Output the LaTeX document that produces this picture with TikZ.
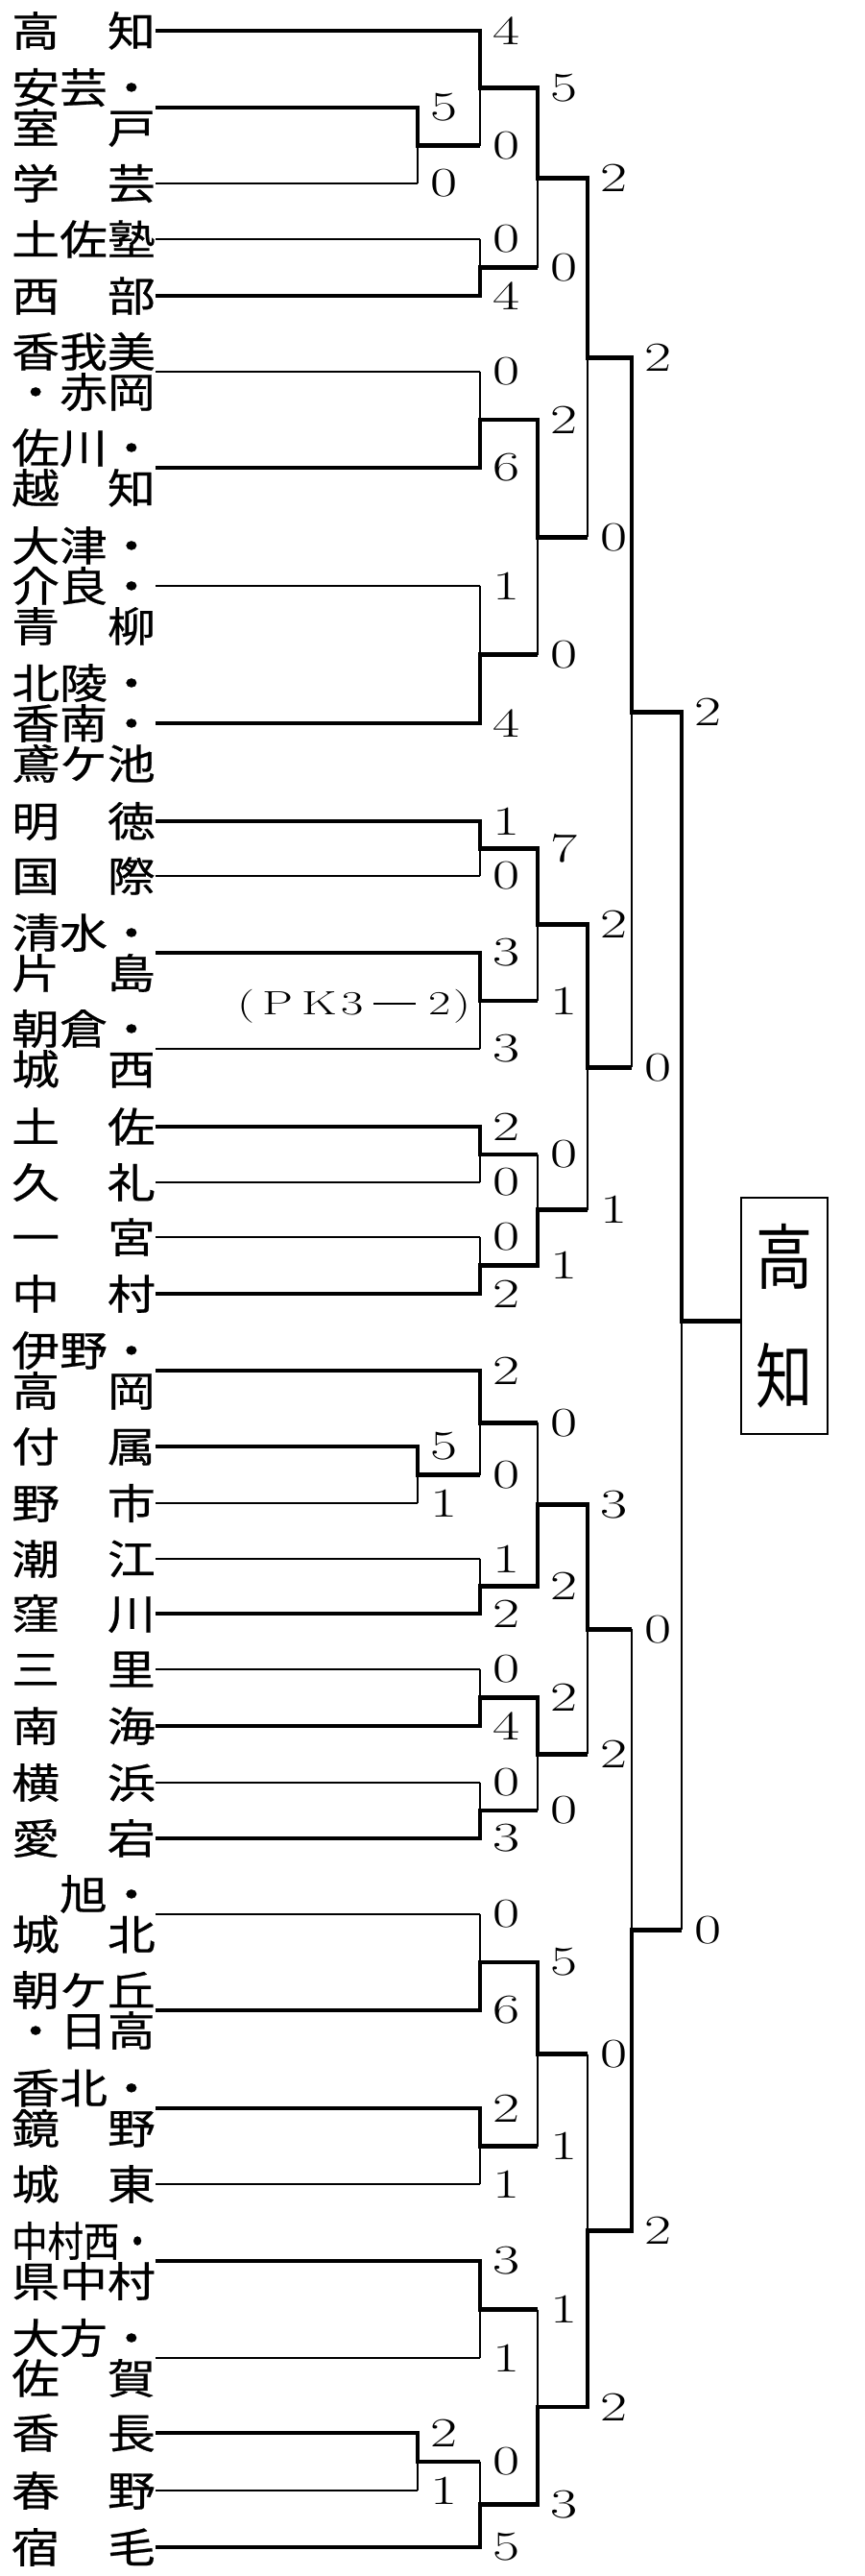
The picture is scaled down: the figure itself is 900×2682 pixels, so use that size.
\documentclass[tikz,border=0pt]{standalone}
\usepackage{fontspec}
\usepackage{graphicx}
\newfontfamily\jp[FakeStretch=1.16,FakeBold=0.6]{Noto Sans CJK JP}
\newfontfamily\jpbox{Noto Sans CJK JP}
\newcommand\dg[1]{\scalebox{1.42}[1]{#1}}
\newcommand\pkc[2]{\makebox[#1pt]{\scalebox{1.45}[1]{#2}}}
% #1 match, #2 top entry, #3 bottom entry, #4 winner entry, #5 parent, #6 #7 scores
\newcommand\bout[7]{%
  \draw[lose] (#2 -| #1) -- (#3 -| #1);
  \draw[win] (#4) -- (#4 -| #1) -- (#1) -- (#1 -| #5);
  \node[score] (#1a) at (#2 -| #1) {\dg{#6}};
  \node[score] (#1b) at (#3 -| #1) {\dg{#7}};
}
\tikzset{
  lose/.style={line width=1.4pt},
  win/.style={line width=4.9pt, line join=miter},
  team/.style={anchor=west, inner sep=0pt, align=left, font=\jp\fontsize{43}{42}\selectfont},
  score/.style={anchor=west, inner sep=0pt, xshift=13pt, font=\fontsize{43}{43}\selectfont},
  champ/.style={draw, line width=2.6pt, fill=white, minimum width=90pt, minimum height=246pt, inner sep=0pt, align=center, font=\jpbox\fontsize{74}{124}\selectfont}
}
\begin{document}
\begin{tikzpicture}[x=1pt,y=-1pt]
\useasboundingbox (0,0) rectangle (900,2682);
% team names
\node[team] (n1) at (12,32) {高　知};
\node[team] (n2) at (12,112) {安芸・\\室　戸};
\node[team] (n3) at (12,191) {学　芸};
\node[team] (n4) at (12,249) {土佐塾};
\node[team] (n5) at (12,308) {西　部};
\node[team] (n6) at (12,387) {香我美\\・赤岡};
\node[team] (n7) at (12,487) {佐川・\\越　知};
\node[team] (n8) at (12,610) {大津・\\介良・\\青　柳};
\node[team] (n9) at (12,753) {北陵・\\香南・\\鳶ケ池};
\node[team] (n10) at (12,855) {明　徳};
\node[team] (n11) at (12,912) {国　際};
\node[team] (n12) at (12,992) {清水・\\片　島};
\node[team] (n13) at (12,1092) {朝倉・\\城　西};
\node[team] (n14) at (12,1173) {土　佐};
\node[team] (n15) at (12,1231) {久　礼};
\node[team] (n16) at (12,1288) {一　宮};
\node[team] (n17) at (12,1347) {中　村};
\node[team] (n18) at (12,1427) {伊野・\\高　岡};
\node[team] (n19) at (12,1506) {付　属};
\node[team] (n20) at (12,1565) {野　市};
\node[team] (n21) at (12,1623) {潮　江};
\node[team] (n22) at (12,1680) {窪　川};
\node[team] (n23) at (12,1738) {三　里};
\node[team] (n24) at (12,1797) {南　海};
\node[team] (n25) at (12,1856) {横　浜};
\node[team] (n26) at (12,1914) {愛　宕};
\node[team] (n27) at (12,1993) {　旭・\\城　北};
\node[team] (n28) at (12,2093) {朝ケ丘\\・日高};
\node[team] (n29) at (12,2195) {香北・\\鏡　野};
\node[team] (n30) at (12,2274) {城　東};
\node[team] (n31) at (12,2354) {\scalebox{0.75}[1]{中村西・}\\県中村};
\node[team] (n32) at (12,2455) {大方・\\佐　賀};
\node[team] (n33) at (12,2533) {香　長};
\node[team] (n34) at (12,2593) {春　野};
\node[team] (n35) at (12,2652) {宿　毛};
% champion box
\node[champ] (box) at (817,1370) {\scalebox{0.8}[1]{高}\\\scalebox{0.8}[1]{知}};
% junctions
\coordinate (a1) at (435,151.5);
\coordinate (m1) at (500,91.75);
\coordinate (m2) at (500,278.5);
\coordinate (m3) at (560,185.1);
\coordinate (m4) at (500,437);
\coordinate (m5) at (500,681.5);
\coordinate (m6) at (560,559.25);
\coordinate (m7) at (612,372.2);
\coordinate (m8) at (500,883.5);
\coordinate (m9) at (500,1042);
\coordinate (m10) at (560,962.75);
\coordinate (m11) at (500,1202);
\coordinate (m12) at (500,1317.5);
\coordinate (m13) at (560,1259.75);
\coordinate (m14) at (612,1111.25);
\coordinate (m15) at (658,741.7);
\coordinate (a2) at (435,1535.5);
\coordinate (m16) at (500,1481.25);
\coordinate (m17) at (500,1651.5);
\coordinate (m18) at (560,1566.4);
\coordinate (m19) at (500,1767.5);
\coordinate (m20) at (500,1885);
\coordinate (m21) at (560,1826.25);
\coordinate (m22) at (612,1696.3);
\coordinate (m23) at (500,2043);
\coordinate (m24) at (500,2234.5);
\coordinate (m25) at (560,2138.75);
\coordinate (m26) at (500,2404.5);
\coordinate (a3) at (435,2563);
\coordinate (m27) at (500,2607.5);
\coordinate (m28) at (560,2506);
\coordinate (m29) at (612,2322.4);
\coordinate (m30) at (658,2009.35);
\coordinate (mF) at (710,1375.5);
% team lines (thin; winners are overdrawn)
\foreach \t/\m in {1/m1,2/a1,3/a1,4/m2,5/m2,6/m4,7/m4,8/m5,9/m5,10/m8,11/m8,12/m9,13/m9,14/m11,15/m11,16/m12,17/m12,18/m16,19/a2,20/a2,21/m17,22/m17,23/m19,24/m19,25/m20,26/m20,27/m23,28/m23,29/m24,30/m24,31/m26,32/m26,33/a3,34/a3,35/m27}
  \draw[lose] (n\t.east) -- (n\t.east -| \m);
% bouts
\bout{a1}{n2.east}{n3.east}{n2.east}{m1}{5}{0}
\bout{m1}{n1.east}{a1}{n1.east}{m3}{4}{0}
\bout{m2}{n4.east}{n5.east}{n5.east}{m3}{0}{4}
\bout{m3}{m1}{m2}{m1}{m7}{5}{0}
\bout{m4}{n6.east}{n7.east}{n7.east}{m6}{0}{6}
\bout{m5}{n8.east}{n9.east}{n9.east}{m6}{1}{4}
\bout{m6}{m4}{m5}{m4}{m7}{2}{0}
\bout{m7}{m3}{m6}{m3}{m15}{2}{0}
\bout{m8}{n10.east}{n11.east}{n10.east}{m10}{1}{0}
\bout{m9}{n12.east}{n13.east}{n12.east}{m10}{3}{3}
\bout{m10}{m8}{m9}{m8}{m14}{7}{1}
\bout{m11}{n14.east}{n15.east}{n14.east}{m13}{2}{0}
\bout{m12}{n16.east}{n17.east}{n17.east}{m13}{0}{2}
\bout{m13}{m11}{m12}{m12}{m14}{0}{1}
\bout{m14}{m10}{m13}{m10}{m15}{2}{1}
\bout{m15}{m7}{m14}{m7}{mF}{2}{0}
\bout{a2}{n19.east}{n20.east}{n19.east}{m16}{5}{1}
\bout{m16}{n18.east}{a2}{n18.east}{m18}{2}{0}
\bout{m17}{n21.east}{n22.east}{n22.east}{m18}{1}{2}
\bout{m18}{m16}{m17}{m17}{m22}{0}{2}
\bout{m19}{n23.east}{n24.east}{n24.east}{m21}{0}{4}
\bout{m20}{n25.east}{n26.east}{n26.east}{m21}{0}{3}
\bout{m21}{m19}{m20}{m19}{m22}{2}{0}
\bout{m22}{m18}{m21}{m18}{m30}{3}{2}
\bout{m23}{n27.east}{n28.east}{n28.east}{m25}{0}{6}
\bout{m24}{n29.east}{n30.east}{n29.east}{m25}{2}{1}
\bout{m25}{m23}{m24}{m23}{m29}{5}{1}
\bout{m26}{n31.east}{n32.east}{n31.east}{m28}{3}{1}
\bout{a3}{n33.east}{n34.east}{n33.east}{m27}{2}{1}
\bout{m27}{a3}{n35.east}{n35.east}{m28}{0}{5}
\bout{m28}{m26}{m27}{m27}{m29}{1}{3}
\bout{m29}{m25}{m28}{m28}{m30}{0}{2}
\bout{m30}{m22}{m29}{m29}{mF}{0}{2}
\bout{mF}{m15}{m30}{m15}{box.west}{2}{0}
% penalty note
\node[anchor=west, inner sep=0pt, font=\fontsize{35}{35}\selectfont] (pk) at (246,1048)
  {\pkc{20}{(}\pkc{46}{P}\pkc{42}{K}\pkc{26}{3}\makebox[62pt]{\rule[11pt]{44pt}{1.6pt}}\pkc{32}{2}\pkc{14}{)}};
\end{tikzpicture}
\end{document}
